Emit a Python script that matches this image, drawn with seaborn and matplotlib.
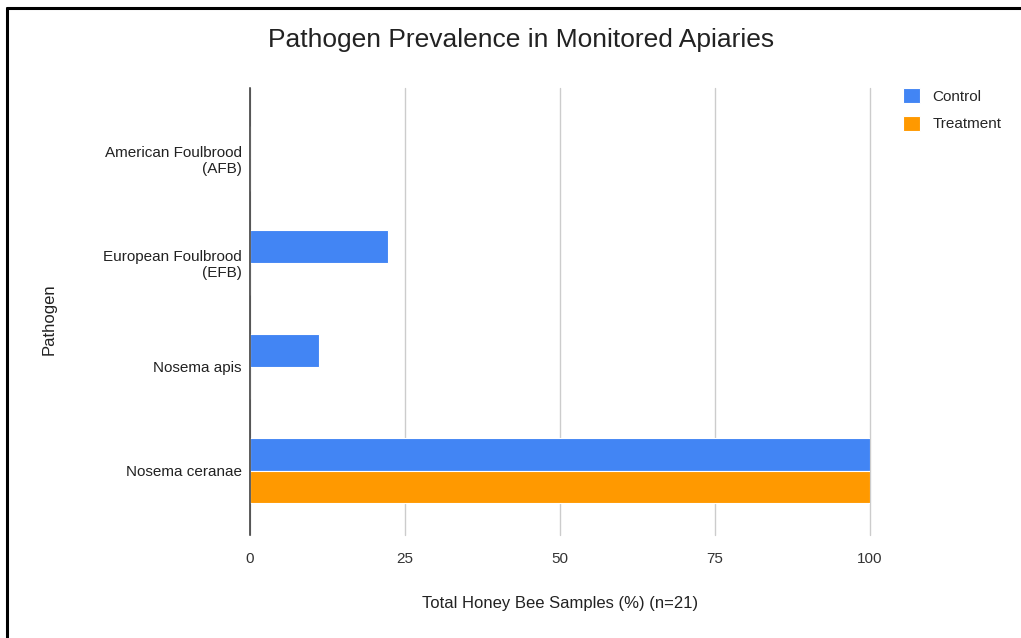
import matplotlib
matplotlib.use("Agg")
import matplotlib.pyplot as plt
import seaborn as sns
import pandas as pd
from matplotlib.lines import Line2D

categories = ["American Foulbrood\n(AFB)", "European Foulbrood\n(EFB)", "Nosema apis", "Nosema ceranae"]
control = [0, 22.2, 11.1, 100]
treatment = [0, 0, 0, 100]
series = ["Control", "Treatment"]
xticks = [0, 25, 50, 75, 100]

df = pd.DataFrame({
    "Pathogen": categories * 2,
    "Value": control + treatment,
    "Group": [series[0]] * len(categories) + [series[1]] * len(categories),
})

sns.set_theme(style="white")
plt.rcParams['font.family'] = ['Liberation Sans', 'DejaVu Sans']

fig = plt.figure(figsize=(10.21, 6.38), dpi=100)
ax = fig.add_axes([250/1021, 1 - 535/638, 620/1021, (535-88)/638])

palette = {"Control": "#4285f4", "Treatment": "#ff9900"}
sns.barplot(data=df, y="Pathogen", x="Value", hue="Group", order=categories,
            hue_order=series, palette=palette, orient="h", width=0.63,
            saturation=1, ax=ax, edgecolor="white", linewidth=0.8)

ax.set_xlim(0, 100)
ax.set_ylim(3.62, -0.68)
ax.set_xticks(xticks)
ax.set_xticklabels([str(t) for t in xticks], fontsize=11, color="#333333")
ax.tick_params(axis="y", labelsize=11, labelcolor="#222222", length=0, pad=6)
ax.tick_params(axis="x", length=0, pad=12)
for lbl in ax.get_yticklabels():
    lbl.set_horizontalalignment("right")
ax.grid(axis="x", color="#cccccc", linewidth=1)
for gl in ax.get_xgridlines():
    gl.set_clip_on(False)
ax.set_axisbelow(True)
for s in ["top", "right", "bottom"]:
    ax.spines[s].set_visible(False)
ax.spines["left"].set_color("#333333")
ax.spines["left"].set_linewidth(1.1)
ax.spines["left"].set_zorder(5)

ax.set_xlabel("Total Honey Bee Samples (%) (n=21)", fontsize=12, color="#222222", labelpad=22)
ax.set_ylabel("Pathogen", fontsize=12, color="#222222")

fig.suptitle("Pathogen Prevalence in Monitored Apiaries", x=521/1021, y=1 - 40/638,
             fontsize=19, color="#222222", va="center")

ax.legend(loc="upper left", bbox_to_anchor=(897/1021, 1 - 82/638), bbox_transform=fig.transFigure,
          frameon=False, fontsize=11, handlelength=1.1, handleheight=1.1,
          handletextpad=0.8, labelspacing=0.8, borderaxespad=0)

fig.add_artist(Line2D([7/1021, 7/1021], [0, 1 - 8/638], transform=fig.transFigure, color="black", linewidth=2.2))
fig.add_artist(Line2D([7/1021, 1], [1 - 8/638, 1 - 8/638], transform=fig.transFigure, color="black", linewidth=2.2))

ax.yaxis.set_label_coords(57/1021, 0.5, transform=fig.transFigure)
ax.yaxis.label.set_y(0.5)

fig.savefig("out.png", dpi=100, facecolor="white")
